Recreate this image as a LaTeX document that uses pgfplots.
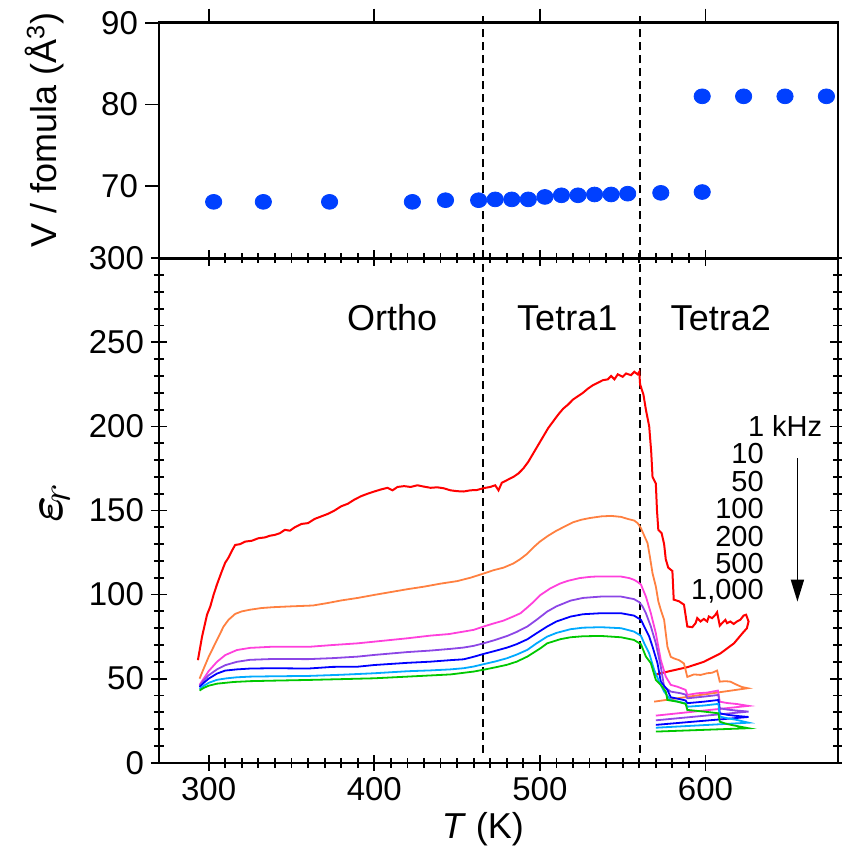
\documentclass[border=0pt]{standalone}
\usepackage{amsmath}
\usepackage{pgfplots}
\pgfplotsset{compat=1.18}
\usepackage{fontspec}
\setmainfont{Liberation Sans}
\usetikzlibrary{arrows.meta}
\definecolor{cRed}{RGB}{255,0,0}
\definecolor{cOrange}{RGB}{255,128,64}
\definecolor{cMag}{RGB}{255,64,220}
\definecolor{cPur}{RGB}{140,70,230}
\definecolor{cBlue}{RGB}{0,0,255}
\definecolor{cLBlue}{RGB}{0,170,255}
\definecolor{cGreen}{RGB}{0,200,0}
\definecolor{cDot}{RGB}{0,64,255}
\begin{document}
\begin{tikzpicture}
\useasboundingbox (-79.5pt,-44.15pt) rectangle (341pt,381.35pt);
\pgfplotsset{
  every tick label/.append style={font=\fontsize{16.5}{19}\selectfont},
  /pgf/number format/assume math mode=true,
}
% ---------------- bottom panel ----------------
\begin{axis}[name=bot, at={(0,0)}, anchor=south west, scale only axis,
  width=339.5pt, height=252.2pt,
  xmin=270, xmax=680, ymin=0, ymax=300,
  xtick={300,400,500,600}, ytick={0,50,...,300},
  minor x tick num=9, minor y tick num=4,
  tick align=center, major tick length=8pt, minor tick length=5pt,
  axis line style={line width=1.2pt},
  every tick/.style={black, line width=0.9pt},
  every minor tick/.style={black, line width=0.9pt},
  clip=false,
  xlabel={\textit{T} (K)},
  every axis x label/.style={at={(rel axis cs:0.477,0)}, anchor=center, yshift=-33pt, font=\fontsize{18}{20}\selectfont},
  ylabel={$\boldsymbol{\varepsilon}_{\!r}$},
  every axis y label/.style={at={(rel axis cs:0,0.515)}, rotate=90, anchor=center, yshift=52pt, font=\fontsize{30}{32}\selectfont},
  every axis plot/.append style={line width=0.9pt},
]
% dashed phase boundaries
\draw[black, line width=1pt, dash pattern=on 4pt off 2.5pt] (axis cs:465.5,6) -- (axis cs:465.5,300);
\draw[black, line width=1pt, dash pattern=on 4pt off 2.5pt] (axis cs:560.5,6) -- (axis cs:560.5,300);

% 1 kHz
\addplot[cRed, line width=1pt] coordinates {
(293.5,61)(296,75)(299,88)(301,93)(303,100)(305,106)(308,114)(310,119)(312,122)(314,126)(316,129.5)(319,130)(322,131.5)(326,132)(330,133.5)(334,134)(337,135)(340,135.5)(343,136.5)(346,138.5)(349,138)(352,140)(356,142)(360,142.5)(364,145)(368,146.5)(372,148)(376,150)(380,152.5)(384,154)(388,156.5)(392,158.5)(396,160)(400,161.3)(404,162.5)(408,163.5)(411,162)(414,164)(418,164.5)(422,164)(426,165)(430,164.2)(434,163.5)(438,163.8)(442,163.2)(446,162)(450,161.5)(454,161.3)(458,162)(462,162.2)(466,163.3)(470,164)(473,165)(475,162)(477,166.5)(480,168)(484,170)(487,172)(490,175)(493,179)(496,184)(499,189)(502,194)(505,199)(508,203)(511,207)(514,210.5)(517,213)(520,216)(523,218)(526,220)(529,222.5)(532,224.5)(535,226)(538,227.5)(541,228)(543,230)(545,228)(547,231)(550,229.5)(552,231.5)(555,230.5)(557,232.5)(559,231)(560,232.5)(560.5,225)(562.5,219)(564,210)(566,200)(567.2,185)(568,170)(570,166)(570.7,150)(571.5,138.5)(573.5,136.5)(575,130)(576,121)(577.5,116)(580,114)(580.8,97)(584,96)(587,94)(589,81)(592,80.6)(594,83)(595,86)(597,84)(599,85.5)(601,84)(602,87)(604,86)(606,88)(607,89.5)(608.6,81.5)(610,83)(612,85)(613,83)(615,84)(617,82.5)(619,84)(621,85)(623,87.5)(624.5,88)(626,84)(625,80)(622.3,77)(617.2,71)(609,65)(599,60)(589,56.8)(579,54.6)(573,53.2)(569,52.2)
};
% 10 kHz
\addplot[cOrange] coordinates {
(294.5,50)(297,56)(300,63)(303,69)(306,75)(309,81)(312,85)(316,88.5)(320,90)(325,91)(332,92)(339,92.5)(350,93)(363,93.5)(372,95)(380,96.5)(390,98)(400,99.8)(410,101.5)(420,103.2)(430,104.7)(440,106.5)(450,108)(458,110)(466,112.5)(472,114.5)(478,116)(484,118.5)(488,121)(492,124)(496,128)(500,131.5)(505,135)(510,138)(515,140.5)(520,143)(525,144.5)(530,145.5)(537,146.5)(543,146.8)(549,146.2)(553,145)(557,144)(559,142.5)(561,139.5)(563,135)(565,130.6)(566.5,122)(568,112.7)(570,104.8)(571.5,96)(573,90.9)(575,85)(577,69)(579,63)(581,62)(584,61)(587,59)(589,51)(593,52.5)(597,52.2)(601,53.2)(604,53.5)(607,54.8)(608.6,48.2)(612,48.5)(615,48.2)(619,46.3)(622,45)(625.5,44.3)(597,40.3)(569,36.3)
};
% 50 kHz
\addplot[cMag] coordinates {
(294.5,46.3)(297,50)(300,54.5)(305,60)(310,64)(317,67)(325,68.3)(339,69)(350,69)(361.5,69)(375,70)(390,71)(400,72)(420,74)(434,75.6)(445,76.5)(454,78)(460,79)(466,81)(472,82.8)(478,84.5)(484,87)(488.3,88.9)(492,92)(496,95.5)(500.4,99.8)(506,103.5)(512,106.5)(517,108.2)(524,109.8)(530,110.5)(535,110.8)(549,110.7)(554,109.8)(557,108.7)(559,107.5)(561,106)(564,98.8)(567,88.9)(570,77)(573,61.1)(576,51.2)(579,46.3)(583,45.2)(588,43.3)(589,40.3)(595,41.3)(601,41.7)(607.5,42.9)(608.6,36.3)(613,35.5)(619,34.9)(626,33.8)(570,28)
};
% 100 kHz
\addplot[cPur] coordinates {
(294.5,45.7)(297,49)(300,52)(305,55.5)(310,58)(317,60)(325,61.2)(339,61.7)(360,61.6)(375,62.2)(390,63.1)(400,64.1)(420,65.8)(434,66.7)(446,67.7)(454,68.5)(460,69.5)(466,71)(473,73)(480.3,75.4)(486,77.8)(492.4,81)(498,85)(504.4,89.9)(510,93)(518.5,96.4)(526,98)(536.7,98.8)(549,98.8)(556.8,97.3)(560,95.5)(562,92.9)(564,88.9)(567,81)(570,71)(573,57.1)(575,45.2)(579,42.3)(585,41.3)(588,40.5)(589,38.3)(599,39.3)(607.8,40.3)(608.6,32.4)(613,31.6)(619,31)(626,30.4)(570,25.2)
};
% 200 kHz
\addplot[cBlue] coordinates {
(294.5,44.9)(297,47.5)(300,50)(305,53)(310,54.8)(317,55.5)(325,56)(339,56.2)(360,56)(375,57)(390,57.1)(400,58.1)(420,59.4)(434,60.1)(446,61)(454,61.5)(460,63)(466,64.7)(473,66.5)(480.3,68.5)(486,70.5)(492.4,73.4)(498,77)(504.4,81)(510,84)(518.5,86.9)(526,88.3)(536.7,88.9)(549,88.9)(556.8,87.5)(561,85)(563,81)(566,75)(568,69)(571,59.2)(573,48.2)(577,43.3)(579,38.9)(585,37.7)(588,37)(589,35.4)(599,36.3)(607.8,37.3)(608.6,29.4)(613,28.5)(619,27.8)(626,27.2)(570,22.5)
};
% 500 kHz
\addplot[cLBlue] coordinates {
(294.5,43.9)(297,45.7)(300,47.5)(305,49.3)(311,50.2)(317,50.8)(325,51.2)(339,51.4)(360,51.6)(380,52.3)(400,53.2)(420,54.4)(434,54.9)(446,55.5)(454,56.2)(460,57.2)(466,58.6)(473,60.2)(480,62.1)(486,64.3)(492.4,67.1)(498,71)(504.4,75)(510,77.2)(518.5,79.4)(526,80.3)(536.7,80.6)(549,80)(556.8,78)(561,75.5)(563,71)(566,65)(569,55.2)(572,48.2)(575,42.3)(579,37.3)(585,36)(588,35.3)(589,33.3)(599,34)(607.8,35)(608.6,27.4)(613,26.5)(619,25.4)(626,23.8)(570,20.8)
};
% 1000 kHz
\addplot[cGreen] coordinates {
(294.5,42.9)(297,44.5)(300,45.8)(305,47)(315,48)(325,48.5)(339,48.8)(359.5,49.2)(380,49.7)(400,50.2)(420,51.2)(428,51.6)(446,52.5)(460,54.2)(466,55.3)(473,56.7)(480,58.2)(486,60.1)(492.4,63.1)(500.4,68.1)(504.4,71)(512.5,73.5)(518.5,74.6)(526,75.2)(536.7,75.4)(549,74.6)(556.8,73)(561,70.5)(564,63.1)(567,59.2)(570,49.2)(573,46.3)(576,42.3)(577,37.3)(583,36.3)(588,35)(589,31.4)(599,30.4)(607.8,29.4)(608.6,24.4)(613,23)(619,21.8)(626,20.5)(570,18.5)
};

% phase labels
\node[font=\fontsize{18}{20}\selectfont] at (axis cs:410.8,264.5) {Ortho};
\node[font=\fontsize{18}{20}\selectfont] at (axis cs:516.5,264.5) {Tetra1};
\node[font=\fontsize{18}{20}\selectfont] at (axis cs:609.2,264.5) {Tetra2};

% frequency labels
\node[anchor=east, inner sep=0pt, font=\fontsize{14.5}{16}\selectfont] at (axis cs:670.7,200) {1 kHz};
\node[anchor=east, inner sep=0pt, font=\fontsize{14.5}{16}\selectfont] at (axis cs:635.4,183.7) {10};
\node[anchor=east, inner sep=0pt, font=\fontsize{14.5}{16}\selectfont] at (axis cs:635.4,167.3) {50};
\node[anchor=east, inner sep=0pt, font=\fontsize{14.5}{16}\selectfont] at (axis cs:635.4,151.4) {100};
\node[anchor=east, inner sep=0pt, font=\fontsize{14.5}{16}\selectfont] at (axis cs:635.4,134.5) {200};
\node[anchor=east, inner sep=0pt, font=\fontsize{14.5}{16}\selectfont] at (axis cs:635.4,118.7) {500};
\node[anchor=east, inner sep=0pt, font=\fontsize{14.5}{16}\selectfont] at (axis cs:635.4,101.8) {1,000};
\draw[line width=0.9pt, -{Triangle[length=11pt,width=6.5pt]}] (axis cs:655.5,181) -- (axis cs:655.5,95.8);
\end{axis}

% ---------------- top panel ----------------
\begin{axis}[name=top, at={(0,252.2pt)}, anchor=south west, scale only axis,
  width=339.5pt, height=117.8pt,
  xmin=270, xmax=680, ymin=61.2, ymax=90,
  xtick={300,400,500,600}, xticklabels={}, xtick pos=right,
  ytick={70,80,90}, ytick pos=left,
  tick align=outside, major tick length=7pt,
  axis line style={line width=1.2pt},
  every tick/.style={black, line width=0.9pt},
  clip=false,
  ylabel={V / fomula (Å\textsuperscript{3})},
  every axis y label/.style={at={(rel axis cs:0,0.545)}, rotate=90, anchor=center, yshift=57pt, font=\fontsize{18}{20}\selectfont},
]
\draw[black, line width=1pt, dash pattern=on 4pt off 2.5pt] (axis cs:465.5,61.2) -- (axis cs:465.5,91);
\draw[black, line width=1pt, dash pattern=on 4pt off 2.5pt] (axis cs:560.5,61.2) -- (axis cs:560.5,91);
\addplot[only marks, mark=*, mark size=3.7pt, mark options={xscale=1.1, fill=cDot, draw=cDot}] coordinates {
(303,68.1)(333,68.1)(373,68.1)(423,68.1)(443,68.3)(463,68.3)(473,68.4)(483,68.4)(493,68.4)(503,68.7)(513,68.9)(523,68.9)(533,69.0)(543,69.0)(553,69.1)(573,69.2)(598,69.3)
(598,81.0)(623,81.0)(648,81.0)(673,81.0)
};
\end{axis}
\end{tikzpicture}
\end{document}
